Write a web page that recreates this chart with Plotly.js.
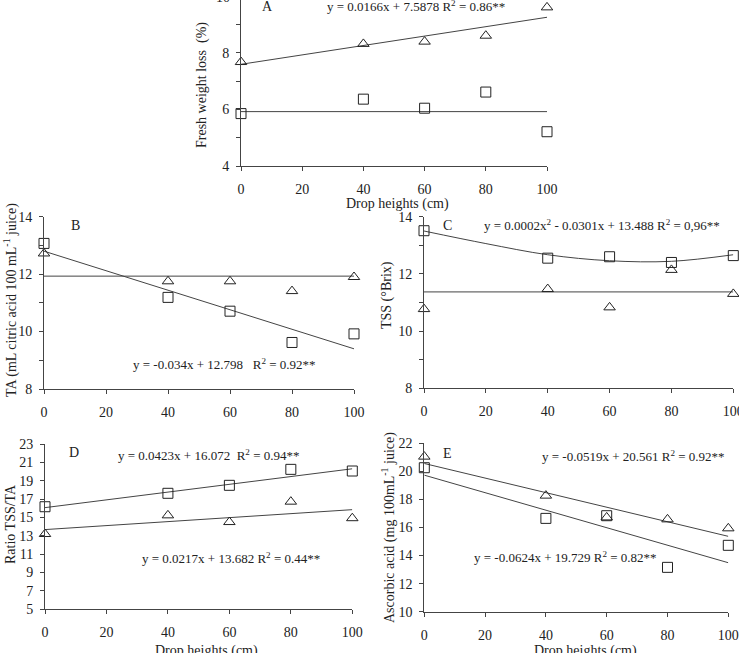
<!DOCTYPE html>
<html>
<head>
<meta charset="utf-8">
<script src="https://cdn.plot.ly/plotly-3.0.1.min.js"></script>
<style>html,body{margin:0;padding:0;background:#fff}#chart{width:739px;height:653px}</style>
</head>
<body>
<div id="chart"></div>
<script>
// Drop heights (cm)
const heights = [0, 40, 60, 80, 100];
const fitX = [0, 100];
const curveX = [0, 20, 40, 60, 80, 100];

// A: Fresh weight loss (%)
const A_tri = [7.67, 8.31, 8.39, 8.60, 9.60];
const A_sq = [5.85, 6.36, 6.04, 6.61, 5.21];
const A_fitTri = [7.59, 9.25];
const A_meanSq = [5.92, 5.92];

// B: TA
const B_sq = [13.07, 11.19, 10.71, 9.62, 9.92];
const B_tri = [12.72, 11.75, 11.75, 11.41, 11.90];
const B_fitSq = [12.80, 9.40];
const B_meanTri = [11.93, 11.93];

// C: TSS
const C_sq = [13.51, 12.55, 12.60, 12.40, 12.64];
const C_tri = [10.77, 11.47, 10.83, 12.14, 11.30];
const C_curveSq = [13.50, 13.06, 12.67, 12.46, 12.44, 12.67];
const C_meanTri = [11.37, 11.37];

// D: Ratio TSS/TA
const D_sq = [16.17, 17.63, 18.50, 20.24, 20.06];
const D_tri = [13.20, 15.23, 14.50, 16.72, 14.92];
const D_fitSq = [16.07, 20.30];
const D_fitTri = [13.68, 15.85];

// E: Ascorbic acid
const E_tri = [21.05, 18.27, 16.72, 16.58, 15.94];
const E_sq = [20.26, 16.65, 16.84, 13.16, 14.73];
const E_fitTri = [20.56, 15.37];
const E_fitSq = [19.73, 13.49];

const W = 739, H = 653;
const FONT = "Liberation Serif, Times New Roman, serif";
const TXT = "#222";
const LINE = "#444";

function px(x) { return x / W; }
function py(y) { return 1 - y / H; }

function markers(x, y, sym, ax) {
  return {x: x, y: y, xaxis: 'x' + ax, yaxis: 'y' + ax, type: 'scatter', mode: 'markers', cliponaxis: false,
    marker: {symbol: sym, size: 10, color: '#222', line: {width: 1, color: '#222'}}, showlegend: false, hoverinfo: 'skip'};
}
function line(x, y, ax, spline) {
  return {x: x, y: y, xaxis: 'x' + ax, yaxis: 'y' + ax, type: 'scatter', mode: 'lines', cliponaxis: false,
    line: {color: LINE, width: 1, shape: spline ? 'spline' : 'linear'}, showlegend: false, hoverinfo: 'skip'};
}

const traces = [
  line(fitX, A_fitTri, ''), line(fitX, A_meanSq, ''),
  markers(heights, A_tri, 'triangle-up-open', ''), markers(heights, A_sq, 'square-open', ''),
  line(fitX, B_fitSq, '2'), line(fitX, B_meanTri, '2'),
  markers(heights, B_sq, 'square-open', '2'), markers(heights, B_tri, 'triangle-up-open', '2'),
  line(curveX, C_curveSq, '3', true), line(fitX, C_meanTri, '3'),
  markers(heights, C_sq, 'square-open', '3'), markers(heights, C_tri, 'triangle-up-open', '3'),
  line(fitX, D_fitSq, '4'), line(fitX, D_fitTri, '4'),
  markers(heights, D_sq, 'square-open', '4'), markers(heights, D_tri, 'triangle-up-open', '4'),
  line(fitX, E_fitTri, '5'), line(fitX, E_fitSq, '5'),
  markers(heights, E_tri, 'triangle-up-open', '5'), markers(heights, E_sq, 'square-open', '5')
];

function xax(x0, x1, anchor) {
  return {domain: [px(x0), px(x1)], range: [0, 100], anchor: anchor, tickvals: [0, 20, 40, 60, 80, 100],
    ticks: 'outside', ticklen: 4, tickcolor: LINE, showline: true, linecolor: LINE, linewidth: 1,
    showgrid: false, zeroline: false, ticklabelstandoff: 6, ticklabeloverflow: 'allow',
    tickfont: {family: FONT, size: 14, color: TXT}};
}
function yax(y0, y1, range, dtick, minor, anchor) {
  const a = {domain: [py(y0), py(y1)], range: range, anchor: anchor, dtick: dtick, tick0: range[0],
    ticks: 'outside', ticklen: 4, tickcolor: LINE, showline: true, linecolor: LINE, linewidth: 1,
    showgrid: false, zeroline: false, ticklabelstandoff: 4, ticklabeloverflow: 'allow',
    tickfont: {family: FONT, size: 14, color: TXT}};
  if (minor) a.minor = {dtick: minor, ticks: 'outside', ticklen: 4, tickcolor: LINE, showgrid: false};
  return a;
}

function ann(x, y, text, opts) {
  return Object.assign({xref: 'paper', yref: 'paper', x: px(x), y: py(y), text: text, showarrow: false,
    xanchor: 'center', yanchor: 'middle', font: {family: FONT, size: 14, color: TXT}}, opts || {});
}
function eq(x, y, text) { return ann(x, y, text, {font: {family: FONT, size: 13, color: TXT}}); }
function ytitle(x, y, text) { return ann(x, y, text, {textangle: -90}); }

const layout = {
  width: W, height: H, margin: {l: 0, r: 0, t: 0, b: 0}, paper_bgcolor: '#fff', plot_bgcolor: 'rgba(0,0,0,0)',
  showlegend: false,
  xaxis: xax(241, 547, 'y'),
  yaxis: yax(166, 0, [4, 9.86], 2, 1, 'x'),
  xaxis2: xax(44, 354, 'y2'),
  yaxis2: yax(389, 216.7, [8, 14], 2, 1, 'x2'),
  xaxis3: xax(424, 733.3, 'y3'),
  yaxis3: yax(388.3, 216.7, [8, 14], 2, 1, 'x3'),
  xaxis4: xax(45, 352.3, 'y4'),
  yaxis4: yax(609.3, 444, [5, 23], 2, null, 'x4'),
  xaxis5: xax(424.3, 728.3, 'y5'),
  yaxis5: yax(611.7, 443.3, [10, 22], 2, null, 'x5'),
  annotations: [
    ann(232, -3, '10', {xanchor: 'right'}),
    ann(267, 6, 'A'),
    eq(416, 6, 'y = 0.0166x + 7.5878 R<sup>2</sup> = 0.86**'),
    ann(397, 204, 'Drop heights (cm)'),
    ytitle(202, 85, 'Fresh weight loss  (%)'),
    ann(75, 226, 'B'),
    eq(224, 364, 'y = -0.034x + 12.798   R<sup>2</sup> = 0.92**'),
    ytitle(10, 300, 'TA (mL citric acid 100 mL<sup>-1</sup> juice)'),
    ann(447, 226, 'C'),
    eq(602, 225, 'y = 0.0002x<sup>2</sup> - 0.0301x + 13.488 R<sup>2</sup> = 0,96**'),
    ytitle(387, 295, 'TSS (°Brix)'),
    ann(74, 452, 'D'),
    eq(208, 455, 'y = 0.0423x + 16.072  R<sup>2</sup> = 0.94**'),
    eq(231, 558, 'y = 0.0217x + 13.682 R<sup>2</sup> = 0.44**'),
    ytitle(10, 524, 'Ratio TSS/TA'),
    ann(206, 651, 'Drop heights (cm)'),
    ann(447, 453, 'E'),
    eq(633, 456, 'y = -0.0519x + 20.561 R<sup>2</sup> = 0.92**'),
    eq(565, 557, 'y = -0.0624x + 19.729 R<sup>2</sup> = 0.82**'),
    ytitle(388, 528, 'Ascorbic acid (mg 100mL<sup>-1</sup> juice)'),
    ann(585, 651, 'Drop heights (cm)')
  ]
};

Plotly.newPlot('chart', traces, layout, {staticPlot: true, displayModeBar: false});
</script>
</body>
</html>
